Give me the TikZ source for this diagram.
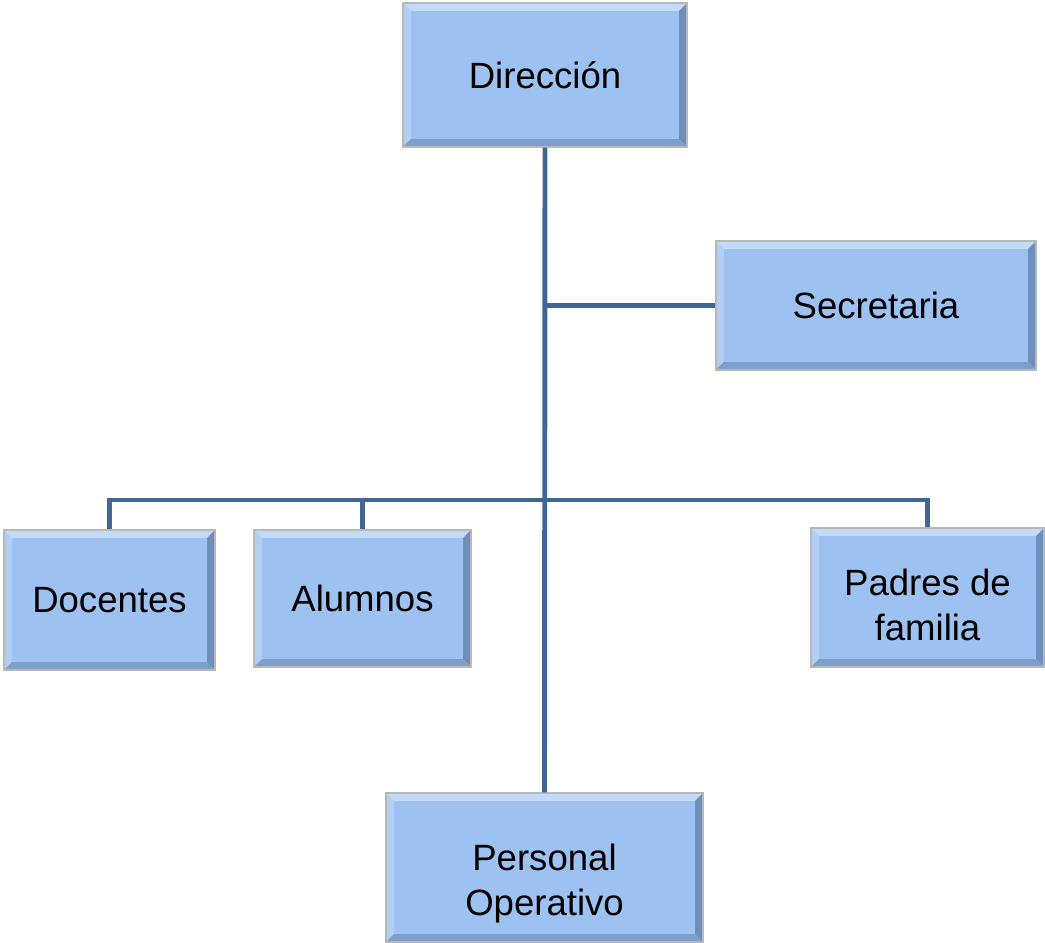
\documentclass[tikz,border=0pt]{standalone}
\usepackage{fontspec}
\setmainfont{Liberation Sans}
\usetikzlibrary{calc}
\definecolor{boxfill}{HTML}{9DC1F0}
\definecolor{boxtop}{HTML}{C4DBF8}
\definecolor{boxleft}{HTML}{B2CEF3}
\definecolor{boxright}{HTML}{6E8EBB}
\definecolor{boxbottom}{HTML}{7F9FCB}
\definecolor{boxedge}{HTML}{B8B8B8}
\definecolor{linecol}{HTML}{416595}

\begin{document}
\begin{tikzpicture}[x=0.025cm, y=-0.025cm, conn/.style={draw=linecol, line width=3.5pt},
  box/.style={rectangle, fill=boxfill, draw=boxedge, line width=0.8pt, inner sep=0pt, align=center, font=\fontsize{26}{32}\selectfont,
    path picture={
      \path (path picture bounding box.south west) coordinate (bsw)
            (path picture bounding box.north east) coordinate (bne);
      \fill[boxtop] (bsw |- bne) -- (bne) -- ($(bne)+(-0.2cm,-0.2cm)$) -- ($(bsw |- bne)+(0.2cm,-0.2cm)$) -- cycle;
      \fill[boxleft] (bsw) -- (bsw |- bne) -- ($(bsw |- bne)+(0.2cm,-0.2cm)$) -- ($(bsw)+(0.2cm,0.2cm)$) -- cycle;
      \fill[boxright] (bne) -- (bsw -| bne) -- ($(bsw -| bne)+(-0.2cm,0.2cm)$) -- ($(bne)+(-0.2cm,-0.2cm)$) -- cycle;
      \fill[boxbottom] (bsw) -- (bsw -| bne) -- ($(bsw -| bne)+(-0.2cm,0.2cm)$) -- ($(bsw)+(0.2cm,0.2cm)$) -- cycle;
      \draw[black!75, line width=2pt] (bne) -- (bsw -| bne);
      \draw[black!45, line width=1.6pt] (bsw) -- (bsw -| bne);
    }}]
  \useasboundingbox (0,0) rectangle (1045,942);
  % boxes
  \node[box, minimum width=7.1cm, minimum height=3.6cm] (dir) at (545,75) {Dirección};
  \node[box, minimum width=8cm, minimum height=3.225cm] (sec) at (876,305.5) {Secretaria};
  \node[box, minimum width=5.275cm, minimum height=3.5cm] (doc) at (109.5,600) {Docentes};
  \node[box, minimum width=5.425cm, minimum height=3.425cm] (alu) at (362.5,598.5) {Alumnos};
  \node[box, minimum width=5.825cm, minimum height=3.475cm, text height=61.5pt] (pad) at (927.5,597.5) {Padres de\\familia};
  \node[box, minimum width=7.925cm, minimum height=3.725cm, text height=73pt] (per) at (544.5,867.5) {Personal\\Operativo};
  \coordinate (bar) at (545,500);
  % lines
  \draw[conn] (dir.south) -- (per.north);
  \draw[conn] (sec.west) -- (sec.west -| dir.south);
  \draw[conn] (doc.north) |- (bar) -| (pad.north);
  \draw[conn] (alu.north) -- (alu.north |- bar);
\end{tikzpicture}
\end{document}
